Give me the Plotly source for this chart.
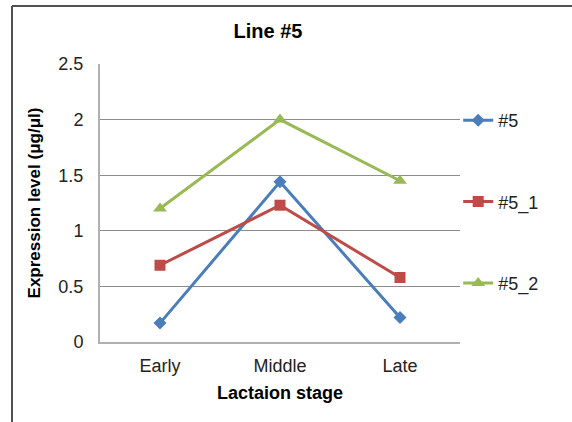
import plotly.graph_objects as go

stages = ["Early", "Middle", "Late"]
s5 = [0.17, 1.44, 0.22]
s5_1 = [0.69, 1.23, 0.58]
s5_2 = [1.20, 2.00, 1.45]
names = ["#5", "#5_1", "#5_2"]
colors = ["#4a7ebb", "#be4b48", "#98b954"]
symbols = ["diamond", "square", "triangle-up"]
sizes = [10, 11, 12]

FONT = "Liberation Sans, Arial, sans-serif"
fig = go.Figure()
for i, (vals, nm) in enumerate(zip([s5, s5_1, s5_2], names)):
    fig.add_trace(go.Scatter(
        x=stages, y=vals, name=nm, mode="lines+markers", legendgroup=nm,
        line=dict(color=colors[i], width=3),
        marker=dict(symbol=symbols[i], size=sizes[i], color=colors[i]),
        cliponaxis=False,
    ))

fig.update_layout(
    width=572, height=422,
    margin=dict(l=100, r=112, t=64, b=80),
    paper_bgcolor="white", plot_bgcolor="white",
    font=dict(family=FONT, size=18, color="#222"),
    title=dict(text="<b>Line #5</b>", xref="container", yref="container",
               x=268 / 572, y=1 - 31 / 422, xanchor="center", yanchor="middle",
               font=dict(size=20, color="#000")),
    showlegend=True,
    legend=dict(x=0.995, xanchor="left", y=(342 - 120) / 278 + 0.065, yanchor="top",
                tracegroupgap=55, itemwidth=30, font=dict(size=18, color="#222"),
                bgcolor="rgba(0,0,0,0)", traceorder="grouped"),
    xaxis=dict(type="category", range=[-0.5, 2.5], showgrid=False,
               showline=True, linecolor="#b0b0b0", linewidth=2, ticks="",
               ticklabelstandoff=6,
               title=dict(text="<b>Lactaion stage</b>", standoff=12,
                          font=dict(size=18, color="#000"))),
    yaxis=dict(range=[0, 2.5], dtick=0.5, showgrid=True, gridcolor="#8c8c8c",
               gridwidth=1, showline=True, linecolor="#b0b0b0", linewidth=2,
               zeroline=False, ticks="", ticklabelstandoff=11,
               title=dict(text="<b>Expression level (μg/μl)</b>", standoff=13,
                          font=dict(size=17, color="#000"))),
)

# outer chart frame (left and top edges)
TOP = (342 - 6) / 278
LEFT = (12 - 100) / 360
fig.add_shape(type="line", xref="paper", yref="paper",
              x0=LEFT, x1=LEFT, y0=-0.4, y1=TOP,
              line=dict(color="#505050", width=2))
fig.add_shape(type="line", xref="paper", yref="paper",
              x0=LEFT, x1=1.5, y0=TOP, y1=TOP,
              line=dict(color="#505050", width=2))

fig.write_html("out.html", config={"displayModeBar": False},
               post_script="document.body.style.margin='0';")
